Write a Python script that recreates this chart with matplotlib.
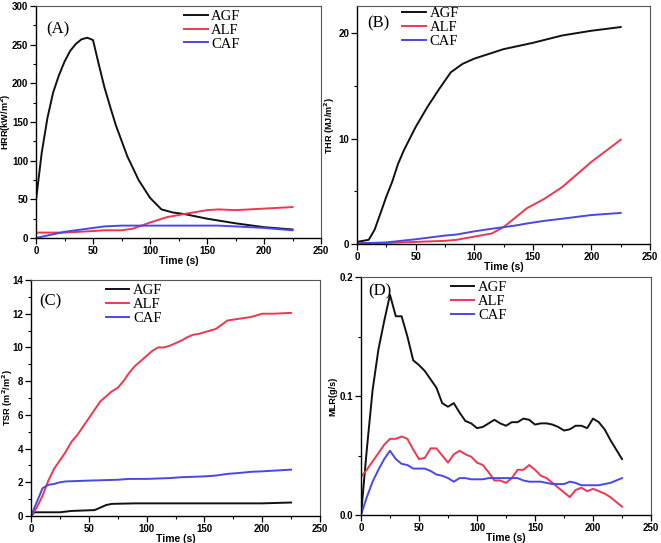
import matplotlib
matplotlib.use("Agg")
import matplotlib.pyplot as plt
from matplotlib.ticker import MultipleLocator, AutoMinorLocator

W, H = 661, 543

# ---- (A) heat release rate ----
hrr_t_agf = [0, 5, 10, 15, 20, 25, 30, 35, 40, 45, 50, 55, 60, 65, 70, 80, 90, 100, 110, 120, 130, 150, 175, 200, 225]
hrr_agf = [49, 110, 155, 188, 210, 228, 242, 251, 257, 259, 256, 225, 195, 170, 146, 106, 75, 52, 37, 33, 31, 25, 19, 14, 11]
hrr_t = [0, 25, 50, 60, 75, 85, 100, 115, 130, 150, 160, 175, 200, 225]
hrr_alf = [7, 7, 9, 10, 10, 12, 20, 27, 31, 36, 37, 36, 38, 40]
hrr_caf = [0, 8, 13, 15, 16, 16, 16, 16, 16, 16, 16, 15, 13, 10]

# ---- (B) total heat release ----
thr_t_agf = [0, 10, 15, 20, 25, 30, 35, 40, 50, 60, 70, 80, 90, 100, 125, 150, 175, 200, 225]
thr_agf = [0.2, 0.4, 1.35, 2.9, 4.5, 5.9, 7.6, 8.9, 11.1, 13.0, 14.7, 16.3, 17.1, 17.6, 18.5, 19.1, 19.8, 20.25, 20.6]
thr_t = [0, 25, 50, 75, 85, 100, 115, 125, 135, 145, 160, 175, 200, 225]
thr_alf = [0.1, 0.1, 0.2, 0.3, 0.4, 0.7, 1.0, 1.6, 2.5, 3.4, 4.3, 5.4, 7.8, 9.9]
thr_caf = [0.05, 0.15, 0.45, 0.8, 0.9, 1.2, 1.45, 1.6, 1.75, 1.95, 2.2, 2.4, 2.75, 2.95]

# ---- (C) total smoke release ----
tsr_t_alf = [0, 5, 10, 15, 20, 25, 30, 35, 40, 45, 50, 55, 60, 65, 70, 75, 80, 85, 90, 95, 100,
             105, 110, 115, 120, 125, 130, 135, 140, 145, 150, 155, 160, 165, 170, 175, 180, 190, 200, 210, 225]
tsr_alf = [0, 0.5, 1.2, 2.1, 2.8, 3.3, 3.8, 4.4, 4.8, 5.3, 5.8, 6.3, 6.8, 7.1, 7.4, 7.6, 8.0, 8.5, 8.9, 9.2, 9.5,
           9.8, 10.0, 10.0, 10.1, 10.25, 10.4, 10.6, 10.75, 10.8, 10.9, 11.0, 11.1, 11.35, 11.6, 11.65, 11.7, 11.8, 12.0, 12.0, 12.05]
tsr_t_caf = [0, 10, 15, 20, 25, 30, 50, 60, 75, 85, 100, 120, 130, 150, 160, 170, 180, 190, 200, 225]
tsr_caf = [0, 1.65, 1.85, 1.9, 2.0, 2.05, 2.1, 2.12, 2.15, 2.2, 2.2, 2.25, 2.3, 2.35, 2.4, 2.5, 2.55, 2.62, 2.65, 2.75]
tsr_t_agf = [0, 3, 25, 35, 55, 65, 70, 90, 200, 225]
tsr_agf = [0, 0.22, 0.22, 0.3, 0.35, 0.65, 0.72, 0.75, 0.75, 0.8]

# ---- (D) mass loss rate ----
mlr_t = list(range(0, 230, 5))
mlr_agf = [0, 0.055, 0.105, 0.139, 0.163, 0.185, 0.167, 0.167, 0.150, 0.130, 0.126, 0.121, 0.114, 0.107, 0.094, 0.091,
           0.094, 0.086, 0.079, 0.077, 0.073, 0.074, 0.077, 0.080, 0.077, 0.075, 0.078, 0.078, 0.081, 0.080, 0.076,
           0.077, 0.077, 0.076, 0.074, 0.071, 0.072, 0.075, 0.075, 0.073, 0.081, 0.078, 0.072, 0.063, 0.055, 0.047]
mlr_alf = [0.032, 0.038, 0.045, 0.052, 0.059, 0.064, 0.064, 0.066, 0.064, 0.055, 0.047, 0.048, 0.056, 0.056, 0.050, 0.044,
           0.051, 0.054, 0.051, 0.049, 0.044, 0.042, 0.036, 0.029, 0.029, 0.027, 0.031, 0.038, 0.038, 0.042, 0.038,
           0.033, 0.031, 0.027, 0.023, 0.019, 0.015, 0.021, 0.023, 0.020, 0.022, 0.020, 0.018, 0.015, 0.011, 0.007]
mlr_caf = [0, 0.015, 0.028, 0.038, 0.047, 0.054, 0.047, 0.043, 0.042, 0.039, 0.039, 0.039, 0.037, 0.034, 0.033, 0.031,
           0.028, 0.031, 0.031, 0.030, 0.030, 0.030, 0.031, 0.031, 0.031, 0.031, 0.031, 0.031, 0.029, 0.028, 0.028,
           0.028, 0.027, 0.026, 0.026, 0.026, 0.028, 0.027, 0.025, 0.025, 0.025, 0.025, 0.026, 0.027, 0.029, 0.031]

BLACK, RED, BLUE = "#111111", "#f0364f", "#4848e6"
names = ["AGF", "ALF", "CAF"]

plt.rcParams["font.family"] = ["Liberation Sans", "DejaVu Sans"]
plt.rcParams["font.weight"] = "bold"

fig = plt.figure(figsize=(W / 100, H / 100), dpi=100)


def make_axes(left, right, top, bottom):
    return fig.add_axes([left / W, 1 - bottom / H, (right - left) / W, (bottom - top) / H])


def style(ax, ylim, ymajor, ylabel, tag, tag_xy, leg_xy, ylab_x):
    ax.set_xlim(0, 250)
    ax.set_ylim(*ylim)
    ax.xaxis.set_major_locator(MultipleLocator(50))
    ax.xaxis.set_minor_locator(AutoMinorLocator(2))
    ax.yaxis.set_major_locator(MultipleLocator(ymajor))
    ax.yaxis.set_minor_locator(AutoMinorLocator(2))
    ax.tick_params(which="major", direction="out", length=4, width=0.9, labelsize=7, pad=1.5)
    ax.tick_params(which="minor", direction="out", length=2, width=0.8)
    for lab in ax.get_xticklabels() + ax.get_yticklabels():
        lab.set_fontweight("bold")
    for s in ["left", "bottom"]:
        ax.spines[s].set_linewidth(1.0)
        ax.spines[s].set_color("black")
    for s in ["top", "right"]:
        ax.spines[s].set_linewidth(0.8)
        ax.spines[s].set_color("#555555")
    ax.set_xlabel("Time (s)", fontsize=7.5, labelpad=0, fontweight="bold")
    ax.set_ylabel(ylabel, fontsize=6.6, fontweight="bold")
    ax.yaxis.set_label_coords(ylab_x, 0.5)
    ax.text(tag_xy[0], tag_xy[1], tag, transform=ax.transAxes, family="Liberation Serif",
            fontweight="normal", fontsize=12, va="center", ha="left")
    ax.legend(names, loc="upper left", bbox_to_anchor=leg_xy, frameon=False,
              prop={"family": "Liberation Serif", "size": 10.5, "weight": "normal"},
              handlelength=1.6, handletextpad=0.25, labelspacing=0.05, borderpad=0, borderaxespad=0)


# (A)
ax = make_axes(36, 321, 6, 238)
ax.plot(hrr_t_agf, hrr_agf, color=BLACK, lw=1.4)
ax.plot(hrr_t, hrr_alf, color=RED, lw=1.4)
ax.plot(hrr_t, hrr_caf, color=BLUE, lw=1.4)
style(ax, (0, 300), 50, "HRR(kW/m$^2$)", "(A)", (0.035, 0.9), (0.52, 0.985), -0.079)

# (B)
ax = make_axes(357, 650, 6, 244)
ax.plot(thr_t_agf, thr_agf, color=BLACK, lw=1.4)
ax.plot(thr_t, thr_alf, color=RED, lw=1.4)
ax.plot(thr_t, thr_caf, color=BLUE, lw=1.4)
style(ax, (0, 22.6), 10, "THR (MJ/m$^2$)", "(B)", (0.035, 0.925), (0.155, 0.995), -0.068)

# (C)
ax = make_axes(31, 320, 280, 516)
ax.plot(tsr_t_agf, tsr_agf, color=BLACK, lw=1.4)
ax.plot(tsr_t_alf, tsr_alf, color=RED, lw=1.4)
ax.plot(tsr_t_caf, tsr_caf, color=BLUE, lw=1.4)
style(ax, (0, 14), 2, "TSR (m$^2$/m$^2$)", "(C)", (0.03, 0.91), (0.26, 0.985), -0.055)

# (D)
ax = make_axes(361, 651, 277, 515)
ax.plot(mlr_t, mlr_agf, color=BLACK, lw=1.4)
ax.plot(mlr_t, mlr_alf, color=RED, lw=1.4)
ax.plot(mlr_t, mlr_caf, color=BLUE, lw=1.4)
style(ax, (0, 0.2), 0.1, "MLR(g/s)", "(D)", (0.025, 0.94), (0.31, 0.985), -0.08)

fig.savefig("out.png", dpi=100)
